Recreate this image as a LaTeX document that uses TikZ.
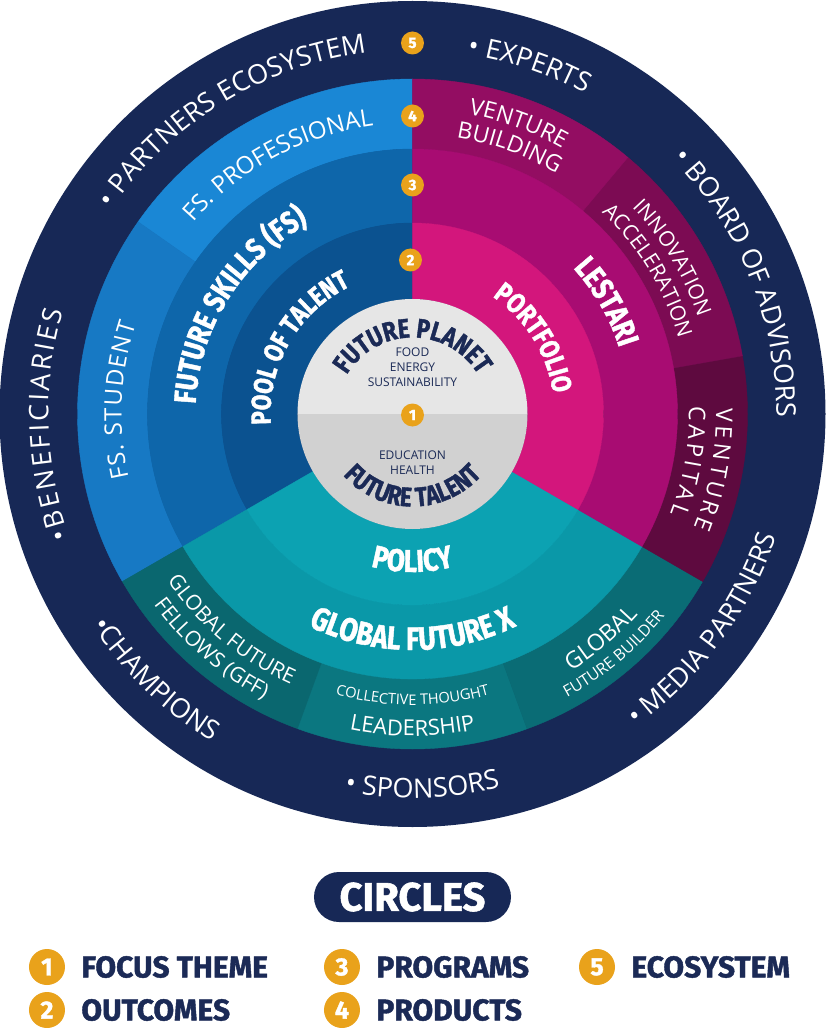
\documentclass[tikz,border=0pt]{standalone}
\usepackage{fontspec}
\setmainfont{Open Sans}
\setsansfont{Fira Sans}
\newfontfamily\heavyfont{Fira Sans}[FakeStretch=0.82,FakeBold=1.4]
\newfontfamily\keyfont{Fira Sans}[FakeBold=1.4]
\usetikzlibrary{decorations.text,positioning}

\definecolor{navy}{HTML}{172856}
\definecolor{ink}{HTML}{1B2A56}
\definecolor{gold}{HTML}{E9A21B}
\definecolor{blueA}{HTML}{1A87D5}
\definecolor{blueB}{HTML}{1779C4}
\definecolor{blueC}{HTML}{0E66AA}
\definecolor{blueD}{HTML}{0B5290}
\definecolor{magA}{HTML}{930D62}
\definecolor{magB}{HTML}{7C0B53}
\definecolor{magC}{HTML}{5E0A3F}
\definecolor{magD}{HTML}{A80C72}
\definecolor{magE}{HTML}{D3167C}
\definecolor{tealA}{HTML}{0CA2B2}
\definecolor{tealB}{HTML}{0A98A8}
\definecolor{tealC}{HTML}{0A676F}
\definecolor{tealD}{HTML}{0B7780}
\definecolor{tealE}{HTML}{0A6C75}
\definecolor{greyA}{HTML}{E6E6E6}
\definecolor{greyB}{HTML}{D1D1D1}

\newcommand\ptsize[1]{\fontsize{#1}{#1}\selectfont}
\newcommand\hv{\heavyfont\bfseries}
\newcommand\ringpart[5]{\fill[#1,draw=#1,line width=0.4pt] (#2:#4pt) arc[start angle=#2,end angle=#3,radius=#4pt] -- (#3:#5pt) arc[start angle=#3,end angle=#2,radius=#5pt] -- cycle;}
\newcommand\arctext[6][]{\path[decorate,decoration={text along path,text align=center,text color=white,#1,text={|#2|#3}}] ({#4+(#5)}:#6pt) arc[start angle={#4+(#5)},end angle={#4-(#5)},radius=#6pt];}

\begin{document}
\begin{tikzpicture}[
        x=1pt,y=1pt,
        badge/.style={circle,fill=gold,text=white,inner sep=0pt,minimum size=23pt,font=\keyfont\bfseries\ptsize{15}},
        bigbadge/.style={badge,minimum size=36pt,font=\keyfont\bfseries\ptsize{25}},
        note/.style={text=ink,align=center,inner sep=0pt,font=\fontsize{12}{15}\selectfont},
        chip/.style={fill=navy,rounded corners=25pt,minimum width=197pt,minimum height=50pt,text=white,font=\keyfont\bfseries\ptsize{40}},
        keytext/.style={text=ink,inner sep=0pt,font=\keyfont\bfseries\ptsize{30}}
    ]
    \fill[white] (-412.5,-614) rectangle (412.5,414);
    \useasboundingbox (-412.5,-614) rectangle (412.5,414);

    \fill[navy] (0,0) circle[radius=413pt];
    \ringpart{blueA}{90}{145}{265}{335}
    \ringpart{blueB}{145}{210}{265}{335}
    \ringpart{tealC}{210}{250}{265}{335}
    \ringpart{tealD}{250}{290}{265}{335}
    \ringpart{tealE}{290}{330}{265}{335}
    \ringpart{magC}{-30}{10}{265}{335}
    \ringpart{magB}{10}{50}{265}{335}
    \ringpart{magA}{50}{90}{265}{335}
    \ringpart{blueC}{90}{210}{191}{265}
    \ringpart{tealB}{210}{330}{191}{265}
    \ringpart{magD}{-30}{90}{191}{265}
    \ringpart{blueD}{90}{210}{115}{191}
    \ringpart{tealA}{210}{330}{115}{191}
    \ringpart{magE}{-30}{90}{115}{191}
    \fill[greyA] (0:115pt) arc[start angle=0,end angle=180,radius=115pt] -- cycle;
    \fill[greyB] (180:115pt) arc[start angle=180,end angle=360,radius=115pt] -- cycle;

    \arctext{\ptsize{27}}{• PARTNERS ECOSYSTEM}{121.5}{40}{364}
    \arctext{\ptsize{27}}{• EXPERTS}{71.5}{25}{364}
    \arctext{\ptsize{27}}{• BOARD OF ADVISORS}{22}{35}{364}
    \arctext[text align={fit to path}]{\ptsize{27}}{•BENEFICIARIES}{181.7}{18.1}{364}
    \arctext{\ptsize{27}}{• MEDIA PARTNERS}{-36.5}{-30}{384}
    \arctext{\ptsize{27}}{• SPONSORS}{271.5}{-25}{384}
    \arctext{\ptsize{27}}{•CHAMPIONS}{226}{-25}{384}

    \arctext{\ptsize{24}}{FS. PROFESSIONAL}{118.3}{30}{291}
    \arctext[text align={fit to path}]{\ptsize{24}}{FS. STUDENT}{177.3}{15.4}{291}
    \arctext{\ptsize{23}}{VENTURE}{70}{20}{305}
    \arctext{\ptsize{23}}{BUILDING}{70}{20}{280}
    \arctext{\ptsize{21}}{INNOVATION}{31}{20}{301.5}
    \arctext{\ptsize{21}}{ACCELERATION}{31.3}{20}{276.5}
    \arctext[text align={fit to path}]{\ptsize{23}}{VENTURE}{-10.5}{11.5}{303.5}
    \arctext[text align={fit to path}]{\ptsize{23}}{CAPITAL}{-9.7}{11.35}{276.5}
    \arctext{\ptsize{21}}{GLOBAL FUTURE}{230}{-20}{296.5}
    \arctext{\ptsize{21}}{FELLOWS (GFF)}{229.4}{-20}{321.5}
    \arctext{\ptsize{14.6}}{COLLECTIVE THOUGHT}{270}{-20}{291}
    \arctext{\ptsize{22}}{LEADERSHIP}{270}{-20}{322}
    \arctext{\ptsize{23}}{GLOBAL}{310}{-15}{302}
    \arctext{\ptsize{16}}{FUTURE BUILDER}{310}{-20}{323}

    \arctext{\hv\ptsize{31}}{FUTURE SKILLS (FS)}{148}{45}{217}
    \arctext{\hv\ptsize{31}}{LESTARI}{30}{30}{217}
    \arctext{\hv\ptsize{32.5}}{GLOBAL FUTURE X}{270}{-45}{236}
    \arctext{\hv\ptsize{27.5}}{POOL OF TALENT}{150}{45}{142}
    \arctext{\hv\ptsize{28}}{PORTFOLIO}{32}{40}{142}
    \arctext{\hv\ptsize{31.5}}{POLICY}{270}{-30}{158}
    \arctext[text color=ink]{\hv\ptsize{27}}{FUTURE PLANET}{90}{75}{76.5}
    \arctext[text color=ink]{\hv\ptsize{27}}{FUTURE TALENT}{270}{-75}{92.5}

    \node[note] (planet) at (0,47) {FOOD\\ENERGY\\SUSTAINABILITY};
    \node[note] (talent) at (0,-48.5) {EDUCATION\\HEALTH};

    \node[badge] (b1) at (0,-1) {1};
    \node[badge] (b2) at (-2,154) {2};
    \node[badge] (b3) at (0,229) {3};
    \node[badge] (b4) at (0,298) {4};
    \node[badge] (b5) at (0,371) {5};

    \node[chip] (circles) at (0,-483) {CIRCLES};
    \node[bigbadge] (k1) at (-365.5,-553) {1};
    \node[bigbadge] (k2) at (-365.5,-596) {2};
    \node[bigbadge] (k3) at (-70.5,-553) {3};
    \node[bigbadge] (k4) at (-70.5,-596) {4};
    \node[bigbadge] (k5) at (184.5,-553) {5};
    \node[keytext,right=16pt of k1] (t1) {FOCUS THEME};
    \node[keytext,right=16pt of k2] (t2) {OUTCOMES};
    \node[keytext,right=16pt of k3] (t3) {PROGRAMS};
    \node[keytext,right=16pt of k4] (t4) {PRODUCTS};
    \node[keytext,right=16pt of k5] (t5) {ECOSYSTEM};
\end{tikzpicture}
\end{document}
